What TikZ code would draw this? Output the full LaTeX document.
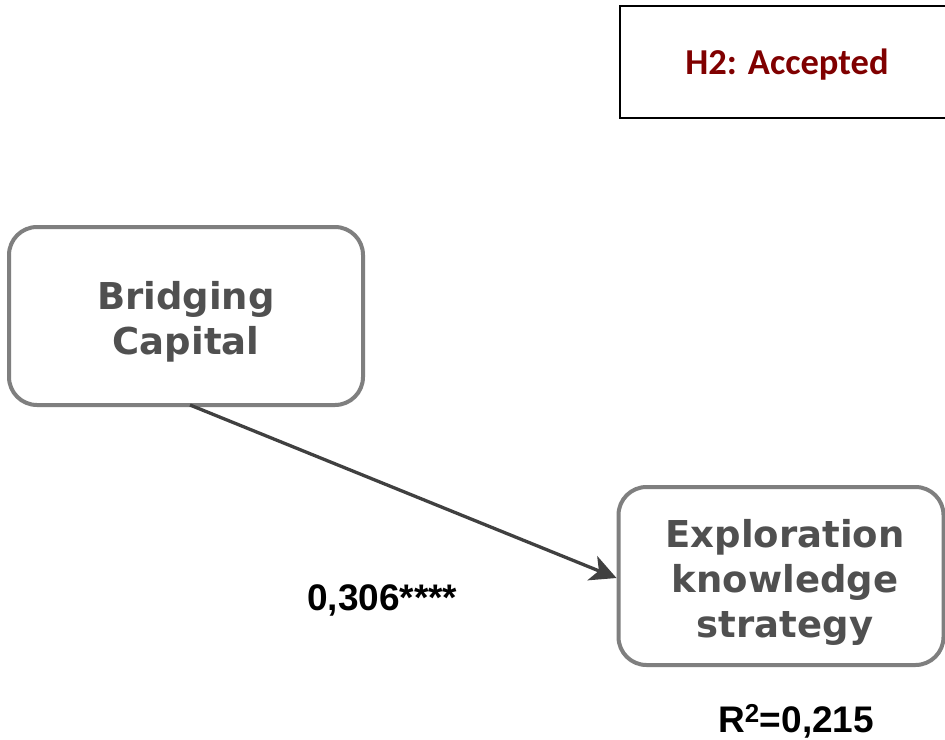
\documentclass[tikz,border=0pt]{standalone}
\usepackage{fontspec}
\setmainfont{Liberation Sans}
\newfontfamily\boxfont{DejaVu Sans}
\newfontfamily\notefont{Carlito}
\usetikzlibrary{arrows.meta}
\definecolor{framegray}{HTML}{7F7F7F}
\definecolor{textgray}{HTML}{505050}
\definecolor{arrowgray}{HTML}{404040}
\definecolor{verdict}{HTML}{800000}
\tikzset{
  construct/.style={draw=framegray, line width=4pt, rounded corners=28pt,
    fill=white},
  construct text/.style={align=center, text=textgray, inner sep=0pt,
    font=\boxfont\bfseries\fontsize{37}{45}\selectfont},
  verdictbox/.style={draw=black, line width=1.5pt, minimum width=345pt,
    minimum height=112pt, anchor=north west},
  verdict text/.style={font=\notefont\bfseries\fontsize{36.5}{40}\selectfont,
    text=verdict, anchor=base, inner sep=0pt},
  stat/.style={font=\bfseries\fontsize{37}{40}\selectfont, inner sep=0pt},
  path arrow/.style={draw=arrowgray, line width=3.3pt,
    -{Stealth[length=26pt,width=26pt,inset=7pt]}}
}
\begin{document}
\begin{tikzpicture}[x=1pt,y=-1pt]
  \useasboundingbox (0,0) rectangle (945,739);
  \clip (0,0) rectangle (945,739);
  \fill[white] (0,0) rectangle (945,739);

  % hypothesis verdict (box runs past the right edge)
  \node[verdictbox] (h2) at (619,5) {};
  \node[verdict text] (h2txt) at (787,74) {H2: Accepted};

  % construct frames
  \node[construct, minimum width=354pt, minimum height=178pt] (bc) at (186,316) {};
  \node[construct, minimum width=325pt, minimum height=178pt] (ek) at (781,576) {};

  % construct labels
  \node[construct text, yshift=-6pt] (bctxt) at (bc.center) {Bridging\\Capital};
  \node[construct text, xshift=4pt, yshift=-6pt] (ektxt) at (ek.center)
    {Exploration\\knowledge\\strategy};

  % structural path
  \coordinate (src) at (190,405);
  \draw[path arrow] (src) -- (ek.west |- 0,578);

  % path coefficient and explained variance
  \node[stat, anchor=base west] (coef) at (307,610) {0,306****};
  \node[stat, anchor=base west] (rsq) at (718,732) {R\textsuperscript{2}=0,215};
\end{tikzpicture}
\end{document}
